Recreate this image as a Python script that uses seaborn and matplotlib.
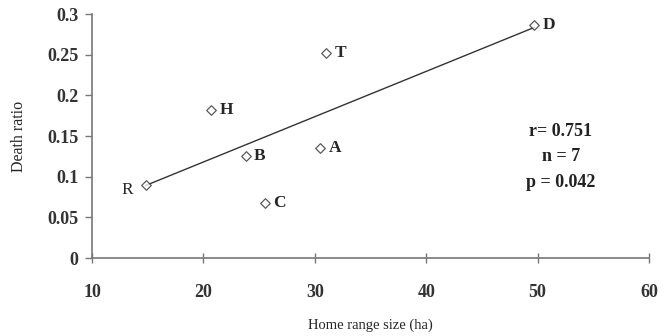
import pandas as pd
import seaborn as sns
import matplotlib.pyplot as plt

# values
sites = ['R', 'H', 'B', 'C', 'A', 'T', 'D']
home_range = [14.8, 20.7, 23.8, 25.5, 30.5, 31.0, 49.7]
death_ratio = [0.090, 0.182, 0.125, 0.068, 0.135, 0.252, 0.287]
x_ticks = [10, 20, 30, 40, 50, 60]
y_ticks = [0, 0.05, 0.1, 0.15, 0.2, 0.25, 0.3]
y_tick_labels = ['0', '0.05', '0.1', '0.15', '0.2', '0.25', '0.3']
stats_text = ['r= 0.751', 'n = 7', 'p = 0.042']

df = pd.DataFrame({'site': sites, 'home_range': home_range, 'death_ratio': death_ratio})

sns.set_style('white')
plt.rcParams['font.family'] = ['Liberation Serif', 'DejaVu Serif']

fig = plt.figure(figsize=(6.67, 3.36), dpi=100)
ax = fig.add_axes([0.138, 0.232, 0.835, 0.726])

sns.regplot(data=df, x='home_range', y='death_ratio', ci=None, truncate=True, ax=ax,
            marker='D', scatter_kws={'s': 24, 'facecolors': 'white', 'edgecolors': '#333333',
                                     'linewidths': 0.9, 'zorder': 3},
            line_kws={'color': '#333333', 'linewidth': 1.0})

# point labels
for s, xv, yv in zip(df['site'], df['home_range'], df['death_ratio']):
    if s == 'R':
        ax.annotate(s, (xv, yv), xytext=(-9, -4), textcoords='offset points',
                    ha='right', va='center', fontsize=12.5)
    else:
        ax.annotate(s, (xv, yv), xytext=(6, 0), textcoords='offset points',
                    ha='left', va='center', fontsize=12.5, fontweight='bold')

ax.text(0.842, 0.555, '\n'.join(stats_text), transform=ax.transAxes, ha='center', va='top',
        fontsize=13, fontweight='bold', linespacing=1.65, color='#222222')

ax.set_xlim(10, 60)
ax.set_ylim(0, 0.3)
ax.set_xticks(x_ticks)
ax.set_yticks(y_ticks)
ax.set_yticklabels(y_tick_labels)
for lab in ax.get_xticklabels() + ax.get_yticklabels():
    lab.set_fontweight('bold')
    lab.set_fontsize(13)
    lab.set_color('#333333')

ax.set_xlabel('Home range size (ha)', fontsize=10.5, labelpad=13)
ax.set_ylabel('Death ratio', fontsize=11.5, labelpad=14)

sns.despine(ax=ax)
for side in ['left', 'bottom']:
    ax.spines[side].set_color('#777777')
    ax.spines[side].set_linewidth(1.2)
ax.tick_params(axis='x', bottom=True, direction='inout', length=7, width=1, color='#777777', pad=15)
ax.tick_params(axis='y', left=True, direction='out', length=5, width=1, color='#777777', pad=5)

fig.savefig('out.png', dpi=100)
